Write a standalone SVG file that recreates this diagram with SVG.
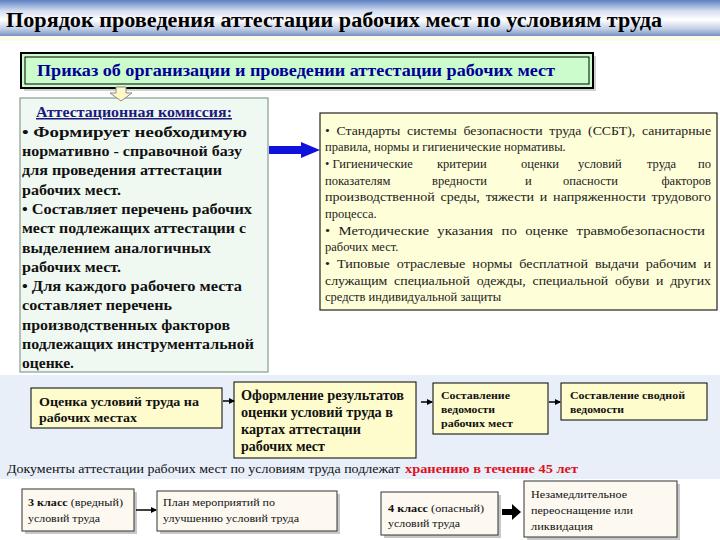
<svg xmlns="http://www.w3.org/2000/svg" width="720" height="540" viewBox="0 0 720 540" font-family="'Liberation Serif', 'Times New Roman', serif">
<defs>
<linearGradient id="tg" x1="0" y1="0" x2="0" y2="1">
<stop offset="0" stop-color="#5a7fc2"/>
<stop offset="0.3" stop-color="#d4def0"/>
<stop offset="0.55" stop-color="#ffffff"/>
<stop offset="0.8" stop-color="#c2cfe6"/>
<stop offset="1" stop-color="#7791c2"/>
</linearGradient>
<marker id="ah" markerWidth="6" markerHeight="6" refX="5" refY="3" orient="auto" markerUnits="userSpaceOnUse">
<path d="M0,0 L6,3 L0,6 z" fill="#000"/>
</marker>
</defs>
<style>
text{font-family:'Liberation Serif','Times New Roman',serif}
.b{font-weight:bold}
.box{fill:#fefccc;stroke:#000;stroke-width:1}
.wbox{fill:#fdf9f1;stroke:#333;stroke-width:1}
.shadow{fill:#c8c8c8}
.conn{stroke:#000;stroke-width:1.5;fill:none}
</style>
<rect x="0" y="0" width="720" height="540" fill="#ffffff"/>
<rect x="0" y="0" width="720" height="36" fill="url(#tg)"/>
<rect x="0" y="36" width="720" height="5" fill="#fbfbea"/>
<rect x="0" y="375" width="720" height="104" fill="#e8eff9"/>
<text class="b" x="6" y="27" font-size="20" textLength="656" lengthAdjust="spacingAndGlyphs" fill="#000">Порядок проведения аттестации рабочих мест по условиям труда</text>

<g id="prikaz">
<rect x="24" y="56" width="572" height="35" fill="#d0d0d0"/>
<rect x="21" y="53" width="572" height="35" fill="#ccfccc" stroke="#000" stroke-width="2"/>
<rect x="25" y="57" width="564" height="27" fill="none" stroke="#000" stroke-width="1"/>
<text class="b" x="37" y="76" font-size="16" textLength="518" lengthAdjust="spacingAndGlyphs" fill="#000099">Приказ об организации и проведении аттестации рабочих мест</text>
</g>

<g id="commission">
<rect x="20" y="98" width="248" height="274" fill="#f0f9f1" stroke="#6d8c7c" stroke-width="1"/>
<text class="b" x="36" y="117" font-size="15" textLength="196" lengthAdjust="spacingAndGlyphs" fill="#1a1a80" text-decoration="underline">Аттестационная комиссия:</text>
<g class="b" font-size="15" fill="#111">
<text x="22" y="137" textLength="225" lengthAdjust="spacingAndGlyphs">•  Формирует необходимую</text>
<text x="22" y="156" textLength="220" lengthAdjust="spacingAndGlyphs">нормативно - справочной базу</text>
<text x="22" y="175" textLength="200" lengthAdjust="spacingAndGlyphs">для проведения аттестации</text>
<text x="22" y="195" textLength="99" lengthAdjust="spacingAndGlyphs">рабочих мест.</text>
<text x="22" y="214" textLength="230" lengthAdjust="spacingAndGlyphs">•  Составляет перечень рабочих</text>
<text x="22" y="233" textLength="224" lengthAdjust="spacingAndGlyphs">мест подлежащих аттестации с</text>
<text x="22" y="253" textLength="189" lengthAdjust="spacingAndGlyphs">выделением аналогичных</text>
<text x="22" y="272" textLength="99" lengthAdjust="spacingAndGlyphs">рабочих мест.</text>
<text x="22" y="291" textLength="220" lengthAdjust="spacingAndGlyphs">•  Для каждого рабочего места</text>
<text x="22" y="310" textLength="150" lengthAdjust="spacingAndGlyphs">составляет перечень</text>
<text x="22" y="330" textLength="208" lengthAdjust="spacingAndGlyphs">производственных факторов</text>
<text x="22" y="349" textLength="232" lengthAdjust="spacingAndGlyphs">подлежащих инструментальной</text>
<text x="22" y="368" textLength="52" lengthAdjust="spacingAndGlyphs">оценке.</text>
</g>
</g>

<g id="standards">
<rect x="320" y="113" width="397" height="197" fill="#fefed8" stroke="#222" stroke-width="1.2"/>
<g font-size="12.5" fill="#222">
<text x="325" y="135" textLength="386" lengthAdjust="spacingAndGlyphs" word-spacing="3">•  Стандарты системы безопасности труда (ССБТ), санитарные</text>
<text x="325" y="151">правила, нормы и гигиенические нормативы.</text>
<text x="325" y="168">• Гигиенические</text>
<text x="437" y="168">критерии</text>
<text x="521" y="168">оценки</text>
<text x="578" y="168">условий</text>
<text x="647" y="168">труда</text>
<text x="711" y="168" text-anchor="end">по</text>
<text x="325" y="185">показателям</text>
<text x="432" y="185">вредности</text>
<text x="525" y="185">и</text>
<text x="563" y="185">опасности</text>
<text x="711" y="185" text-anchor="end">факторов</text>
<text x="325" y="201" textLength="386" lengthAdjust="spacingAndGlyphs" word-spacing="2">производственной среды, тяжести и напряженности трудового</text>
<text x="325" y="218">процесса.</text>
<text x="325" y="235" textLength="380" lengthAdjust="spacingAndGlyphs" word-spacing="4">•  Методические указания   по оценке   травмобезопасности</text>
<text x="325" y="251">рабочих  мест.</text>
<text x="325" y="268" textLength="386" lengthAdjust="spacingAndGlyphs" word-spacing="3">•  Типовые отраслевые нормы бесплатной выдачи рабочим и</text>
<text x="325" y="285" textLength="386" lengthAdjust="spacingAndGlyphs" word-spacing="3">служащим специальной одежды, специальной обуви и других</text>
<text x="325" y="301">средств индивидуальной защиты</text>
</g>
</g>

<g id="evaluate">
<rect class="box" x="31" y="388" width="191" height="40"/>
<g class="b" font-size="13" fill="#111">
<text x="39" y="406" textLength="160" lengthAdjust="spacingAndGlyphs">Оценка условий труда на</text>
<text x="39" y="422" textLength="98" lengthAdjust="spacingAndGlyphs">рабочих местах</text>
</g>
</g>

<g id="register">
<rect class="box" x="234" y="382" width="182" height="76"/>
<g class="b" font-size="14" fill="#111">
<text x="241" y="400" textLength="163" lengthAdjust="spacingAndGlyphs">Оформление результатов</text>
<text x="241" y="417" textLength="152" lengthAdjust="spacingAndGlyphs">оценки условий труда в</text>
<text x="241" y="434" textLength="120" lengthAdjust="spacingAndGlyphs">картах аттестации</text>
<text x="241" y="451" textLength="84" lengthAdjust="spacingAndGlyphs">рабочих мест</text>
</g>
</g>

<g id="statement">
<rect class="box" x="433" y="383" width="115" height="51"/>
<g class="b" font-size="10.5" fill="#111">
<text x="441" y="399" textLength="69" lengthAdjust="spacingAndGlyphs">Составление</text>
<text x="441" y="413" textLength="54" lengthAdjust="spacingAndGlyphs">ведомости</text>
<text x="441" y="427" textLength="72" lengthAdjust="spacingAndGlyphs">рабочих мест</text>
</g>
</g>

<g id="summary">
<rect class="box" x="561" y="383" width="146" height="37"/>
<g class="b" font-size="10.5" fill="#111">
<text x="570" y="399" textLength="115" lengthAdjust="spacingAndGlyphs">Составление сводной</text>
<text x="570" y="413" textLength="54" lengthAdjust="spacingAndGlyphs">ведомости</text>
</g>
</g>

<text x="7" y="473" font-size="13" fill="#111" textLength="393" lengthAdjust="spacingAndGlyphs">Документы аттестации рабочих мест по условиям труда  подлежат</text>
<text class="b" x="405" y="473" font-size="13" fill="#e01020" textLength="173" lengthAdjust="spacingAndGlyphs">хранению в течение 45 лет</text>

<g id="class3">
<rect class="shadow" x="25" y="492" width="112" height="42"/>
<rect class="wbox" x="22" y="489" width="112" height="42"/>
<g font-size="11" fill="#111">
<text x="28" y="506" textLength="95" lengthAdjust="spacingAndGlyphs"><tspan class="b">3 класс</tspan> (вредный)</text>
<text x="28" y="522" textLength="72" lengthAdjust="spacingAndGlyphs">условий труда</text>
</g>
</g>

<g id="plan">
<rect class="shadow" x="160" y="494" width="180" height="40"/>
<rect class="wbox" x="157" y="491" width="180" height="40"/>
<g font-size="11" fill="#111">
<text x="163" y="506" textLength="112" lengthAdjust="spacingAndGlyphs">План мероприятий по</text>
<text x="163" y="522" textLength="136" lengthAdjust="spacingAndGlyphs">улучшению условий труда</text>
</g>
</g>

<g id="class4">
<rect class="shadow" x="384" y="495" width="117" height="43"/>
<rect class="wbox" x="381" y="492" width="117" height="43"/>
<g font-size="11" fill="#111">
<text x="388" y="512" textLength="96" lengthAdjust="spacingAndGlyphs"><tspan class="b">4 класс</tspan> (опасный)</text>
<text x="388" y="527" textLength="72" lengthAdjust="spacingAndGlyphs">условий труда</text>
</g>
</g>

<g id="liquidation">
<rect class="shadow" x="527" y="484" width="153" height="56"/>
<rect class="wbox" x="524" y="481" width="153" height="56"/>
<g font-size="11" fill="#111">
<text x="531" y="498" textLength="96" lengthAdjust="spacingAndGlyphs">Незамедлительное</text>
<text x="531" y="514" textLength="102" lengthAdjust="spacingAndGlyphs">переоснащение или</text>
<text x="531" y="530" textLength="62" lengthAdjust="spacingAndGlyphs">ликвидация</text>
</g>
</g>

<g id="connectors">
<path d="M116,87 H126 V93 H132 L121,101 L110,93 H116 Z" fill="#fff8c8" stroke="#8a8a8a" stroke-width="1"/>
<path d="M269,146 H301 V142 L320,150 L301,158 V154 H269 Z" fill="#1111dd"/>
<line class="conn" x1="223" y1="401" x2="234" y2="401" marker-end="url(#ah)"/>
<line class="conn" x1="421" y1="402" x2="432" y2="402" marker-end="url(#ah)"/>
<line class="conn" x1="549" y1="402" x2="560" y2="402" marker-end="url(#ah)"/>
<line class="conn" x1="136" y1="510" x2="156" y2="510" marker-end="url(#ah)"/>
<path d="M502,509 H512 V504 L521,512 L512,520 V515 H502 Z" fill="#000"/>
</g>
</svg>
